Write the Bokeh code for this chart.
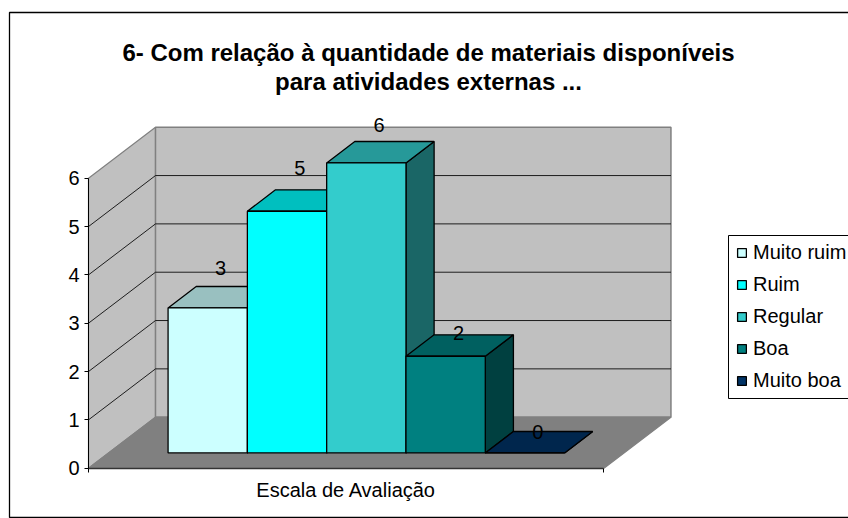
from bokeh.plotting import figure
from bokeh.models import (Range1d, LinearAxis, FixedTicker, Legend, LegendItem, BoxAnnotation,
                          Label, ColumnDataSource)
from bokeh.embed import file_html
from bokeh.resources import INLINE

# ---- data ----
categories = ["Muito ruim", "Ruim", "Regular", "Boa", "Muito boa"]
values = [3, 5, 6, 2, 0]
y_ticks = [0, 1, 2, 3, 4, 5, 6]
front_colors = ["#CCFFFF", "#00FFFF", "#33CCCC", "#008080", "#003366"]
top_colors = ["#99C0C0", "#00BFBF", "#269999", "#006060", "#00264D"]
side_colors = ["#99C0C0", "#00BFBF", "#1A6666", "#004040", "#001A33"]
title_lines = ["6- Com relação à quantidade de materiais disponíveis", "para atividades externas ..."]
axis_title = "Escala de Avaliação"

# ---- layout (style) ----
W, H = 848, 518
PX_U, PX_V = 79.3, 48.33      # pixels per category / per value unit
X0, Y0 = 88.0, 467.7          # canvas position of the origin
GAP = 0.75                    # gap either side of the bars, in categories
SPAN = len(categories) + 2 * GAP
DX, DY = 67 / PX_U, 51 / PX_V # oblique shift for full depth
W_FRONT, W_BACK = 0.30, 0.72  # bar depth extent
VMAX = 6
label_lift = [40, 43, 38, 23, 21]  # px, value labels above bar's front top edge
label_shift = 52.5             # px from bar left


def pr(u, v, w=0.0):
    return u + w * DX, v + w * DY


def poly(*pts):
    xs, ys = zip(*[pr(*p) for p in pts])
    return list(xs), list(ys)


p = figure(width=W, height=H, output_backend="svg", toolbar_location=None,
           x_axis_type=None, y_axis_type=None,
           x_range=Range1d(-X0 / PX_U, (W - X0) / PX_U),
           y_range=Range1d(-(H - Y0) / PX_V, Y0 / PX_V),
           min_border=0, min_border_left=0, min_border_right=0, min_border_top=0, min_border_bottom=0)
p.grid.visible = False
p.outline_line_color = None
p.background_fill_color = "white"
p.border_fill_color = "white"

# chart-area border (screen y counts from the canvas bottom)
p.add_layout(BoxAnnotation(left=9, right=W + 20, top=H - 12, bottom=H - 517,
                           left_units="screen", right_units="screen",
                           top_units="screen", bottom_units="screen",
                           fill_color=None, line_color="black", line_alpha=1, line_width=1.3,
                           level="underlay"))

WALL, FLOOR, EDGE = "#C0C0C0", "#808080", "#808080"
# side wall, back wall, floor
xs, ys = poly((0, 0, 0), (0, VMAX, 0), (0, VMAX, 1), (0, 0, 1))
p.patch(xs, ys, fill_color=WALL, line_color=EDGE, line_width=1.2)
xs, ys = poly((0, 0, 1), (0, VMAX, 1), (SPAN, VMAX, 1), (SPAN, 0, 1))
p.patch(xs, ys, fill_color=WALL, line_color=EDGE, line_width=1.5)
xs, ys = poly((0, 0, 0), (SPAN, 0, 0), (SPAN, 0, 1), (0, 0, 1))
p.patch(xs, ys, fill_color=FLOOR, line_color=EDGE, line_width=1.2)

# gridlines
for t in y_ticks[1:-1]:
    xs, ys = poly((0, t, 0), (0, t, 1), (SPAN, t, 1))
    p.line(xs, ys, line_color="black", line_width=1, line_alpha=0.85)

# bars
items = []
for i, (name, val) in enumerate(zip(categories, values)):
    a, b = GAP + i, GAP + i + 1
    xs, ys = poly((b, 0, W_FRONT), (b, 0, W_BACK), (b, val, W_BACK), (b, val, W_FRONT))
    p.patch(xs, ys, fill_color=side_colors[i], line_color="black", line_width=1.3)
    xs, ys = poly((a, val, W_FRONT), (a, val, W_BACK), (b, val, W_BACK), (b, val, W_FRONT))
    p.patch(xs, ys, fill_color=top_colors[i], line_color="black", line_width=1.3)
    xs, ys = poly((a, 0, W_FRONT), (b, 0, W_FRONT), (b, val, W_FRONT), (a, val, W_FRONT))
    r = p.patch(xs, ys, fill_color=front_colors[i], line_color="black", line_width=1.3)
    items.append(LegendItem(label=name, renderers=[r]))

# value labels
lx, ly = zip(*[pr(GAP + i, v, W_FRONT) for i, v in enumerate(values)])
src = ColumnDataSource(dict(x=list(lx), y=list(ly), t=[str(v) for v in values],
                            dy=[-d for d in label_lift]))
p.text("x", "y", text="t", source=src, x_offset=label_shift, y_offset="dy",
       text_align="center", text_baseline="middle", text_font_size="20px",
       text_font={"value": "Liberation Sans"}, text_color="black")

# axes
yax = LinearAxis(ticker=FixedTicker(ticks=y_ticks), bounds=(0, VMAX), fixed_location=0)
yax.major_label_text_font = "Liberation Sans"
yax.major_label_text_font_size = "20px"
yax.major_label_text_color = "black"
yax.major_tick_in = 0
yax.major_tick_out = 4
yax.minor_tick_line_color = None
yax.axis_line_color = "black"
yax.major_tick_line_color = "black"
p.add_layout(yax, "left")

xax = LinearAxis(ticker=FixedTicker(ticks=[0, SPAN]), bounds=(0, SPAN), fixed_location=0,
                 major_label_overrides={0: "", SPAN: ""})
xax.major_tick_in = 0
xax.major_tick_out = 4
xax.minor_tick_line_color = None
xax.axis_line_color = "#333333"
xax.axis_line_width = 1.5
xax.major_tick_line_color = "black"
xax.major_label_text_font_size = "1px"
p.add_layout(xax, "below")

p.add_layout(Label(x=SPAN / 2, y=-(H - Y0) / PX_V, text=axis_title, x_units="data", y_units="data",
                   y_offset=29, text_align="center", text_baseline="middle",
                   text_font="Liberation Sans", text_font_size="20px", text_color="black"))

# title
for line, y_px in zip(title_lines, [52, 81]):
    p.add_layout(Label(x=428, y=H - y_px, x_units="screen", y_units="screen", text=line,
                       text_align="center", text_baseline="middle", text_font="Liberation Sans",
                       text_font_style="bold", text_font_size="24px", text_color="black"))

# legend box and legend
p.add_layout(BoxAnnotation(left=728, right=W + 20, top=H - 235, bottom=H - 398,
                           left_units="screen", right_units="screen",
                           top_units="screen", bottom_units="screen",
                           fill_color="white", fill_alpha=1, line_color="black", line_alpha=1,
                           line_width=1))
legend = Legend(items=items, location=(736, 126), glyph_width=11, glyph_height=11,
                label_text_font="Liberation Sans", label_text_font_size="20px", label_text_color="black",
                label_standoff=6, spacing=9, padding=8, margin=0,
                border_line_color=None, background_fill_alpha=0, label_height=20)
p.add_layout(legend, "center")

open("out.html", "w").write(file_html(p, INLINE))
